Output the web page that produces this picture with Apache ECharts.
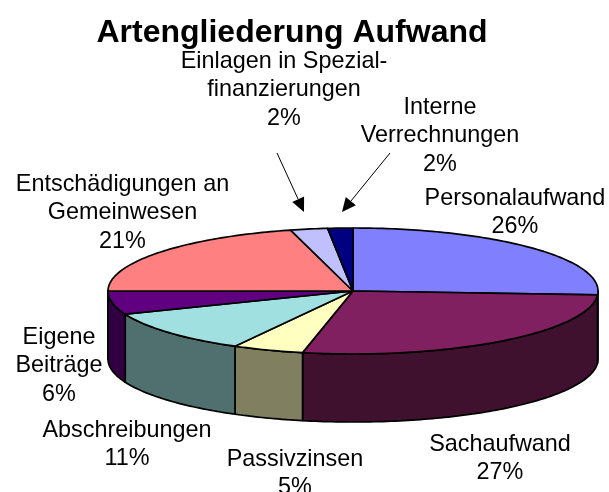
<!DOCTYPE html>
<html>
<head>
<meta charset="utf-8">
<style>html,body{margin:0;padding:0;background:#fff;overflow:hidden}#c{width:609px;height:492px}</style>
<script src="https://cdn.jsdelivr.net/npm/echarts@6/dist/echarts.min.js"></script>
</head>
<body>
<div id="c"></div>
<script>
var titleText = 'Artengliederung Aufwand';
var categories = ['Personalaufwand','Sachaufwand','Passivzinsen','Abschreibungen','Eigene Beiträge','Entschädigungen an Gemeinwesen','Einlagen in Spezialfinanzierungen','Interne Verrechnungen'];
var values = [26, 27.3, 4.7, 11, 6, 20.9, 2.45, 1.65];
var percentLabels = ['26%','27%','5%','11%','6%','21%','2%','2%'];
var labelLines = [
  ['Personalaufwand'],
  ['Sachaufwand'],
  ['Passivzinsen'],
  ['Abschreibungen'],
  ['Eigene','Beiträge'],
  ['Entschädigungen an','Gemeinwesen'],
  ['Einlagen in Spezial-','finanzierungen'],
  ['Interne','Verrechnungen']
];
var topColors = ['#8080FF','#802060','#FFFFC0','#A0E0E0','#600080','#FF8080','#C0C0FF','#000080'];
var wallColors = ['#404080','#40112F','#808060','#507070','#300040','#804040','#606080','#000040'];

// layout
var CX = 353, CY = 291, RX = 245, RY = 63, DEPTH = 68;
var labelPos = [[515,184],[500,430],[295,445],[127,416],[59,323],[122.5,170],[284,47],[440,93]];
var arrows = [[[277,153],[304,212]],[[390,153],[342,212]]];

var total = values.reduce(function(a,b){return a+b;},0);
var cum = 0;
var seriesData = values.map(function(v,i){
  var s = cum; cum += v;
  return {name: categories[i], value: [s/total*360, cum/total*360, i]};
});
function pt(deg, dy){
  var r = deg*Math.PI/180;
  return [CX + RX*Math.sin(r), CY - RY*Math.cos(r) + (dy||0)];
}
function arc(a,b,dy){
  var out = [], n = Math.max(2, Math.ceil(Math.abs(b-a)));
  for (var k=0;k<=n;k++) out.push(pt(a+(b-a)*k/n, dy));
  return out;
}
function renderItem(params, api){
  var a = api.value(0), b = api.value(1), i = api.value(2);
  var children = [];
  var wa = Math.max(a,90), wb = Math.min(b,270);
  if (wb > wa){
    var front = arc(wa,wb,0), back = arc(wb,wa,DEPTH);
    children.push({type:'polygon', shape:{points:front.concat(back)},
      style:{fill:wallColors[i], stroke:'#000', lineWidth:1.7, lineJoin:'round'}});
  }
  children.push({type:'polygon', shape:{points:[[CX,CY]].concat(arc(a,b,0))},
    style:{fill:topColors[i], stroke:'#000', lineWidth:1.7, lineJoin:'round'}});
  return {type:'group', children:children};
}
var graphics = labelLines.map(function(lines,i){
  return {type:'text', x:labelPos[i][0], y:labelPos[i][1], silent:true,
    style:{text:lines.concat([percentLabels[i]]).join('\n'), fill:'#000',
      font:'23.4px "Liberation Sans", Arial, sans-serif', lineHeight:28.5,
      textAlign:'center', textVerticalAlign:'top'}};
});
arrows.forEach(function(ar){
  var p=ar[0], q=ar[1], dx=q[0]-p[0], dy=q[1]-p[1], L=Math.sqrt(dx*dx+dy*dy), ux=dx/L, uy=dy/L, hl=14, hw=6.5;
  graphics.push({type:'line', silent:true, shape:{x1:p[0],y1:p[1],x2:q[0]-ux*hl,y2:q[1]-uy*hl}, style:{stroke:'#000',lineWidth:1}});
  graphics.push({type:'polygon', silent:true, shape:{points:[q,[q[0]-ux*hl-uy*hw,q[1]-uy*hl+ux*hw],[q[0]-ux*hl+uy*hw,q[1]-uy*hl-ux*hw]]}, style:{fill:'#000'}});
});
var chart = echarts.init(document.getElementById('c'), null, {renderer:'canvas'});
chart.setOption({
  animation:false,
  backgroundColor:'#fff',
  title:{text:titleText, left:287, top:12, textAlign:'center',
    textStyle:{fontFamily:'"Liberation Sans", Arial, sans-serif', fontWeight:'bold', fontSize:32, color:'#000'}},
  series:[{type:'custom', coordinateSystem:'none', renderItem:renderItem, data:seriesData, silent:true, clip:false}],
  graphic:graphics
});
</script>
</body>
</html>
